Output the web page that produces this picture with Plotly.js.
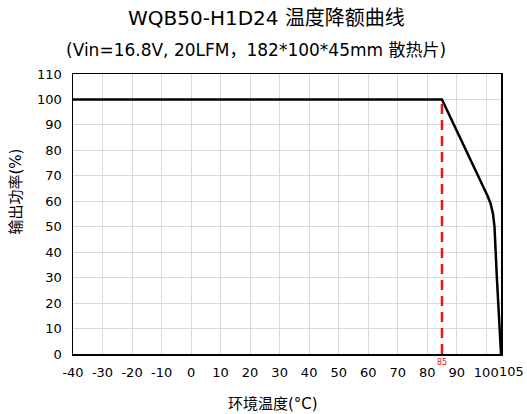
<!DOCTYPE html>
<html><head><meta charset="utf-8">
<script src="https://cdn.plot.ly/plotly-3.0.1.min.js"></script>
<style>html,body{margin:0;padding:0;background:#fff}#chart{width:527px;height:414px}</style>
</head><body><div id="chart"></div>
<script>
const tempC = [-40, 85, 100.5, 101.5, 102.3, 102.8, 103.6, 104.5, 105];
const powerPct = [100, 100, 62, 59, 55, 50, 30, 10, 0];
const deratingX = [85, 85];
const deratingY = [0, 100];
const xTickVals = [-40, -30, -20, -10, 0, 10, 20, 30, 40, 50, 60, 70, 80, 90, 100, 105];
const yTickVals = [0, 10, 20, 30, 40, 50, 60, 70, 80, 90, 100, 110];
const titleText = 'WQB50-H1D24 温度降额曲线';
const subtitleText = '(Vin=16.8V, 20LFM，182*100*45mm 散热片)';
const xTitle = '环境温度(°C)';
const yTitle = '输出功率(%)';
const markLabel = '85';

const font = '"DejaVu Sans", "Noto Sans CJK SC", sans-serif';
const lastTick = xTickVals[xTickVals.length - 1];
const traces = [
  {x: tempC, y: powerPct, mode: 'lines', line: {color: '#000', width: 2.5}, hoverinfo: 'skip'},
  {x: deratingX, y: deratingY, mode: 'lines', line: {color: '#e8141b', width: 2.5, dash: '10px,6px'}, hoverinfo: 'skip'}
];
const layout = {
  width: 527, height: 414,
  margin: {l: 73, r: 26, t: 74, b: 60},
  paper_bgcolor: '#fff', plot_bgcolor: '#fff',
  showlegend: false,
  font: {family: font, color: '#000', size: 13},
  xaxis: {range: [-40, 105], tickvals: xTickVals,
    ticktext: xTickVals.map(v => v === lastTick ? '' : String(v)), tickangle: 0,
    ticklabelstandoff: 6,
    showgrid: true, gridcolor: '#d9d9d9', gridwidth: 1, zeroline: false,
    showline: true, mirror: true, linecolor: '#000', linewidth: 1.5, ticks: '',
    tickfont: {size: 13, family: font}, fixedrange: true},
  yaxis: {range: [0, 110], tickvals: yTickVals, ticklabelstandoff: 7,
    showgrid: true, gridcolor: '#d9d9d9', gridwidth: 1, zeroline: false,
    showline: true, mirror: true, linecolor: '#000', linewidth: 1.5, ticks: '',
    tickfont: {size: 13, family: font}, fixedrange: true},
  annotations: [
    {text: titleText, xref: 'paper', yref: 'paper', x: 0.453, y: 1, yshift: 56, showarrow: false, font: {size: 20, family: font}, xanchor: 'center', yanchor: 'middle'},
    {text: subtitleText, xref: 'paper', yref: 'paper', x: 0.428, y: 1, yshift: 24, showarrow: false, font: {size: 17, family: font}, xanchor: 'center', yanchor: 'middle'},
    {text: xTitle, xref: 'paper', yref: 'paper', x: 0.467, y: 0, yshift: -50, showarrow: false, font: {size: 15, family: font}, xanchor: 'center', yanchor: 'middle'},
    {text: yTitle, xref: 'paper', yref: 'paper', x: 0, xshift: -57, y: 0.58, showarrow: false, textangle: -90, font: {size: 15, family: font}, xanchor: 'center', yanchor: 'middle'},
    {text: String(lastTick), x: lastTick, xref: 'x', y: 0, yref: 'paper', xshift: 10, yshift: -17, showarrow: false, font: {size: 13, family: font}, xanchor: 'center', yanchor: 'middle'},
    {text: markLabel, x: 85, xref: 'x', y: 0, yref: 'paper', yshift: -8, showarrow: false, font: {size: 8, color: '#e8141b', family: font}, xanchor: 'center', yanchor: 'middle'}
  ]
};
Plotly.newPlot('chart', traces, layout, {staticPlot: true, displayModeBar: false});
</script></body></html>
